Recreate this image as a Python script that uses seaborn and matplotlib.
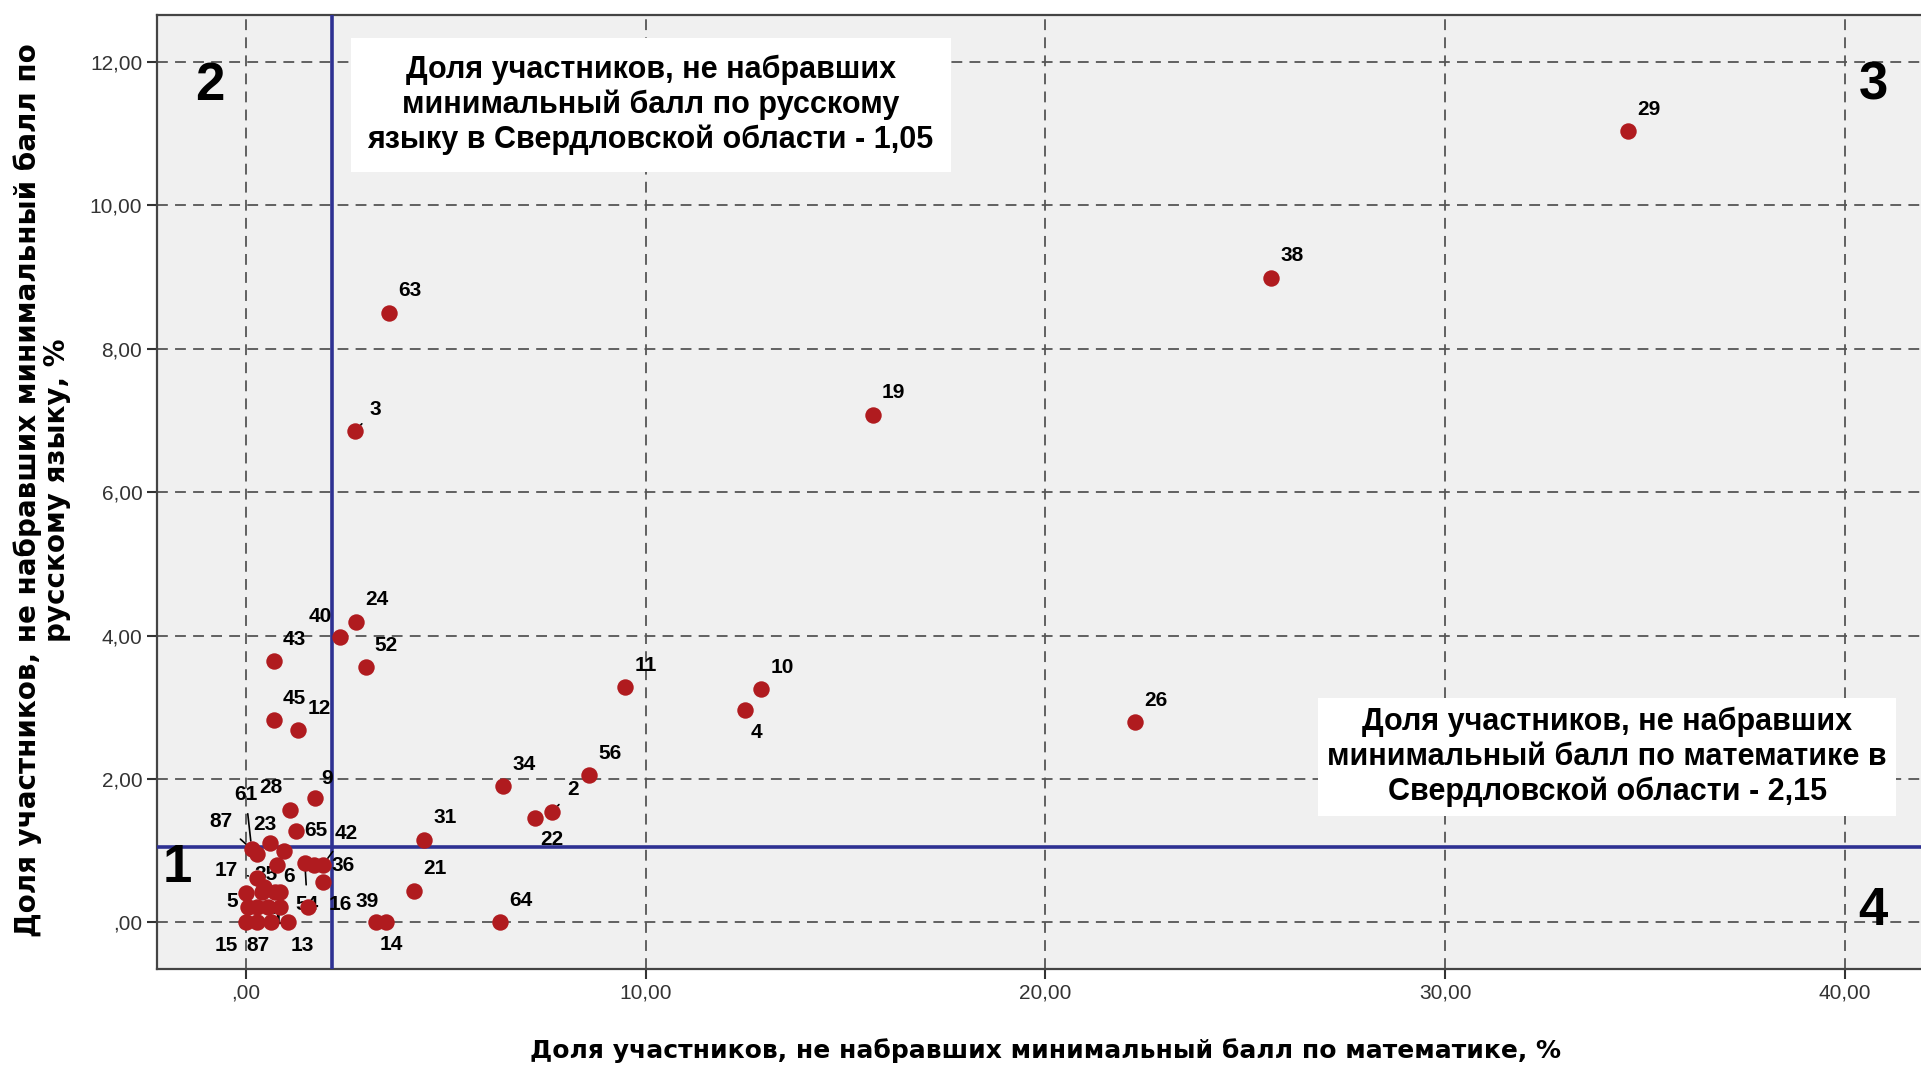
import pandas as pd
import matplotlib
matplotlib.use("Agg")
import matplotlib.pyplot as plt
import seaborn as sns

sns.set_style("ticks")
plt.rcParams['font.family'] = ['Liberation Sans', 'DejaVu Sans']
plt.rcParams['text.color'] = 'black'

# district numbers, share failing math (%), share failing russian (%)
labels = ["29", "38", "19", "26", "10", "4", "11", "56", "34", "2", "22", "31",
          "21", "64", "39", "14", "63", "3", "24", "40", "52", "43", "45", "12",
          "9", "28", "65", "23", "61", "87", "", "", "42", "54", "36", "16",
          "17", "35", "6", "5", "", "", "", "", "", "", "", "15", "87", "1", "13"]
math_fail = [34.58, 25.64, 15.68, 22.24, 12.89, 12.50, 9.49, 8.58, 6.43, 7.66, 7.23, 4.47,
             4.20, 6.37, 3.25, 3.52, 3.58, 2.73, 2.76, 2.36, 3.00, 0.70, 0.70, 1.32,
             1.74, 1.10, 1.27, 0.60, 0.15, 0.27, 0.97, 0.78, 1.93, 1.48, 1.72, 1.93,
             0.27, 0.45, 0.86, 0.00, 0.40, 0.73, 0.05, 0.27, 0.55, 0.86, 1.56, 0.00, 0.27, 0.64, 1.06]
rus_fail = [11.03, 8.99, 7.08, 2.79, 3.25, 2.96, 3.28, 2.05, 1.90, 1.54, 1.45, 1.15,
            0.44, 0.00, 0.00, 0.00, 8.50, 6.85, 4.19, 3.98, 3.56, 3.64, 2.82, 2.68,
            1.73, 1.57, 1.28, 1.11, 1.02, 0.96, 0.99, 0.80, 0.80, 0.83, 0.80, 0.56,
            0.62, 0.50, 0.43, 0.41, 0.43, 0.43, 0.22, 0.22, 0.22, 0.22, 0.22, 0.00, 0.00, 0.00, 0.00]

math_region = 2.15
rus_region = 1.05

x_ticks = [0, 10, 20, 30, 40]
x_tick_labels = [",00", "10,00", "20,00", "30,00", "40,00"]
y_ticks = [0, 2, 4, 6, 8, 10, 12]
y_tick_labels = [",00", "2,00", "4,00", "6,00", "8,00", "10,00", "12,00"]

# label offsets (reference pixels at reduced scale), default up-right
label_offsets = {
    "4": (9, 18), "22": (14, 17), "14": (4, 18), "39": (-7, -17), "40": (-16, -17),
    "9": (10, -16), "28": (-15, -18), "61": (-5, -45), "87": (-29, -26), "23": (-4, -15),
    "65": (16, 0), "42": (19, -26), "36": (23, 0), "17": (-25, -6), "35": (2, -10),
    "6": (7, -12), "5": (-11, 7), "54": (2, 34), "16": (14, 18), "1": (5, -3),
    "15": (-16, 19), "13": (12, 19),
}
lower_87 = (1, 19)

df = pd.DataFrame({"label": labels, "math": math_fail, "rus": rus_fail})

fig = plt.figure(figsize=(19.21, 10.70), dpi=100)
ax = fig.add_axes([0.0817, 0.0944, 0.9183, 0.892])
ax.set_facecolor("#F0F0F0")

sns.scatterplot(data=df, x="math", y="rus", ax=ax, color="#B01B1F", s=140,
                edgecolor="#B01B1F", linewidth=0, zorder=5)

ax.set_xlim(-2.22, 41.9)
ax.set_ylim(-0.65, 12.66)
ax.set_xticks(x_ticks)
ax.set_xticklabels(x_tick_labels)
ax.set_yticks(y_ticks)
ax.set_yticklabels(y_tick_labels)
ax.tick_params(axis="both", labelsize=15, labelcolor="#333333", color="#333333",
               length=7, width=1.5, direction="out")
ax.grid(True, ls=(0, (6, 4)), color="#555555", lw=1.3)
ax.set_axisbelow(True)
for side in ["left", "bottom", "top"]:
    ax.spines[side].set_color("#444444")
    ax.spines[side].set_linewidth(1.6)
ax.spines["right"].set_visible(False)

ax.axvline(math_region, color="#2E3192", lw=2.6, zorder=3)
ax.axhline(rus_region, color="#2E3192", lw=2.6, zorder=3)

scale = 1.2251
seen87 = False
for lab, xv, yv in zip(labels, math_fail, rus_fail):
    if not lab:
        continue
    if lab == "87" and seen87:
        off = lower_87
    else:
        off = label_offsets.get(lab, (17, -18))
    if lab == "87":
        seen87 = True
    ax.annotate(lab, (xv, yv), xytext=(off[0] * scale, -off[1] * scale),
                textcoords="offset pixels", ha="center", va="center",
                fontsize=15, fontweight="bold", color="black", zorder=4,
                arrowprops=dict(arrowstyle="-", lw=1.2, color="black",
                                shrinkA=5, shrinkB=6))

fig.text(0.3387, 0.902, "Доля участников, не набравших\nминимальный балл по русскому\nязыку в Свердловской области - 1,05",
         ha="center", va="center", fontsize=22, fontweight="bold", linespacing=1.2,
         bbox=dict(facecolor="white", edgecolor="none", boxstyle="square,pad=0.55"), zorder=7)
fig.text(0.8367, 0.2927, "Доля участников, не набравших\nминимальный балл по математике в\nСвердловской области - 2,15",
         ha="center", va="center", fontsize=22, fontweight="bold", linespacing=1.2,
         bbox=dict(facecolor="white", edgecolor="none", boxstyle="square,pad=0.3"), zorder=7)

for txt, fx, fy in [("1", 0.0925, 0.189), ("2", 0.1093, 0.920), ("3", 0.9755, 0.920), ("4", 0.975, 0.149)]:
    fig.text(fx, fy, txt, ha="center", va="center", fontsize=38, fontweight="bold")

ax.set_xlabel("")
ax.set_ylabel("")
fig.text(0.544, 0.018, "Доля участников, не набравших минимальный балл по математике, %",
         ha="center", va="center", fontsize=18, fontweight="bold", family="DejaVu Sans")
fig.text(0.022, 0.542, "Доля участников, не набравших минимальный балл по\nрусскому языку, %",
         ha="center", va="center", rotation=90, fontsize=20, fontweight="bold",
         family="DejaVu Sans", linespacing=1.05)

fig.savefig("out.png", dpi=100)
